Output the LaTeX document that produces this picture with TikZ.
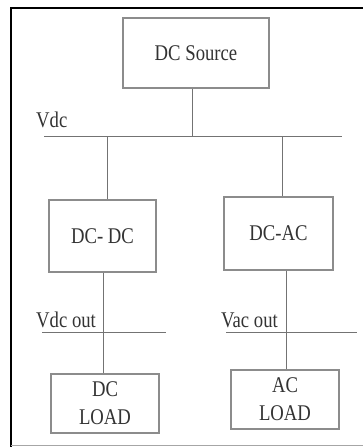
\documentclass[tikz,border=0pt]{standalone}
\usepackage{fontspec}
\setmainfont{Liberation Serif}
\usepackage{graphicx}
\newcommand{\vst}[1]{\scalebox{1}[1.2]{#1}}
\begin{document}
\begin{tikzpicture}[x=1pt,y=-1pt,
  box/.style={draw=black!45, line width=1.3pt, inner sep=0pt, align=center,
    text=black!80, font=\fontsize{18.7}{28}\selectfont},
  lbl/.style={inner sep=0pt, anchor=base west, text=black!80, font=\fontsize{18.7}{22}\selectfont},
  wire/.style={draw=black!55, line width=1pt}]
\useasboundingbox (0,0) rectangle (363,447);
% frame
\draw[line width=2.2pt, black] (11,447) -- (11,8) -- (363,8);
\draw[line width=1pt, black!35] (11,445.5) -- (363,445.5);
% boxes
\node[box, minimum width=146pt, minimum height=70pt] (src) at (196,53) {\vst{DC Source}};
\node[box, minimum width=107pt, minimum height=72pt] (dcdc) at (102.5,236) {\vst{DC- DC}};
\node[box, minimum width=109pt, minimum height=73pt] (dcac) at (278.5,233.5) {\vst{DC-AC}};
\node[box, minimum width=108pt, minimum height=59pt] (dcload) at (105,403.5) {\vst{DC}\\\vst{LOAD}};
\node[box, minimum width=108pt, minimum height=59pt] (acload) at (285,399.5) {\vst{AC}\\\vst{LOAD}};
% bus coordinates
\coordinate (vdcW) at (44,136);
\coordinate (vdcE) at (342,136);
\coordinate (vdcS) at (192,136);
\coordinate (vdcL) at (107,136);
\coordinate (vdcR) at (282,136);
\coordinate (outLW) at (42,332);
\coordinate (outLE) at (166,332);
\coordinate (outRW) at (226,332);
\coordinate (outRE) at (357,332);
\coordinate (dL) at (103,272);
\coordinate (dR) at (286,270);
% buses
\draw[wire] (vdcW) -- (vdcE);
\draw[wire] (outLW) -- (outLE);
\draw[wire] (outRW) -- (outRE);
% connectors
\draw[wire] (vdcS |- src.south) -- (vdcS);
\draw[wire] (vdcL) -- (vdcL |- dcdc.north);
\draw[wire] (vdcR) -- (vdcR |- dcac.north);
\draw[wire] (dL |- dcdc.south) -- (dL |- dcload.north);
\draw[wire] (dR |- dcac.south) -- (dR |- acload.north);
% labels
\node[lbl] (lvdc) at (36,127) {\vst{Vdc}};
\node[lbl] (lvdcout) at (36,327) {\vst{Vdc out}};
\node[lbl] (lvacout) at (221,327) {\vst{Vac out}};
\end{tikzpicture}
\end{document}
